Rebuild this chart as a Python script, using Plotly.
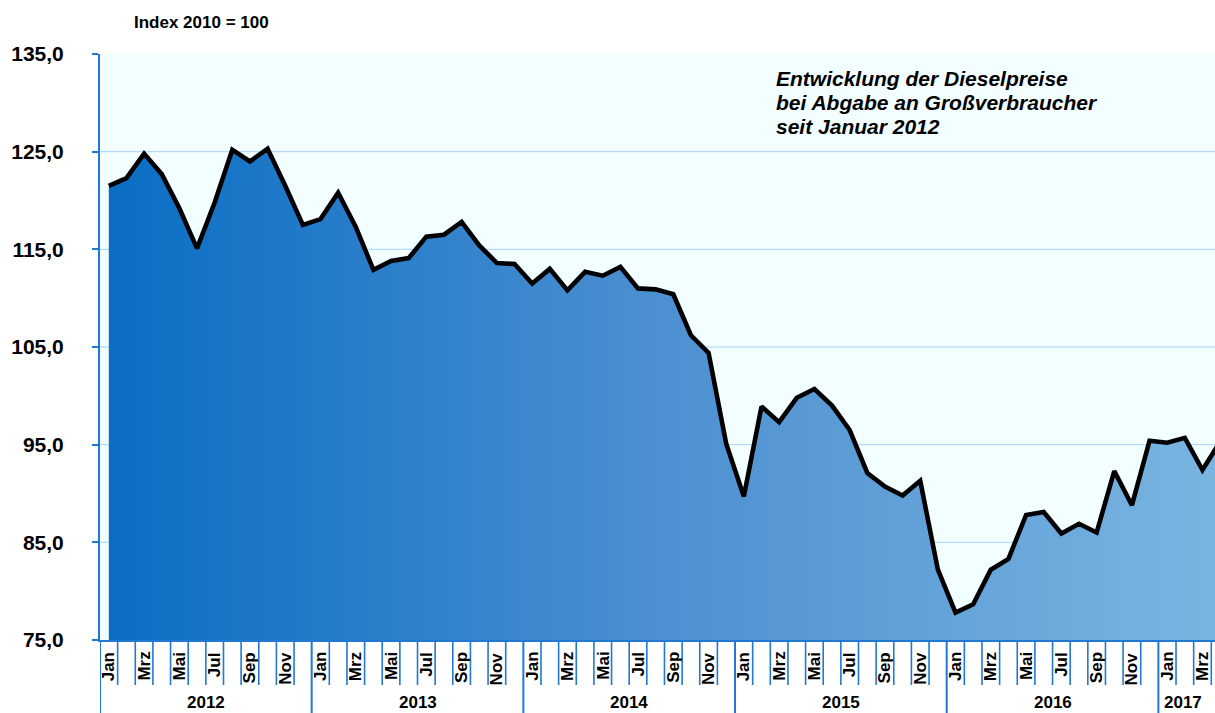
import plotly.graph_objects as go

# Dieselpreisindex (2010 = 100), Abgabe an Großverbraucher, monatlich
years = ["2012", "2013", "2014", "2015", "2016", "2017"]
months = ["Jan", "Feb", "Mrz", "Apr", "Mai", "Jun", "Jul", "Aug", "Sep", "Okt", "Nov", "Dez"]

index_2012 = [121.5, 122.3, 124.8, 122.7, 119.2, 115.1, 119.8, 125.2, 124.0, 125.3, 121.5, 117.5]
index_2013 = [118.1, 120.8, 117.3, 112.9, 113.8, 114.1, 116.3, 116.5, 117.8, 115.4, 113.6, 113.5]
index_2014 = [111.5, 113.0, 110.8, 112.7, 112.3, 113.2, 111.0, 110.9, 110.4, 106.2, 104.4, 95.1]
index_2015 = [89.7, 98.9, 97.3, 99.8, 100.7, 99.0, 96.5, 92.1, 90.7, 89.8, 91.3, 82.2]
index_2016 = [77.8, 78.65, 82.2, 83.3, 87.8, 88.1, 85.9, 86.9, 86.0, 92.3, 88.8, 95.4]
index_2017 = [95.2, 95.7, 92.4, 95.3]

y_ticks = [75, 85, 95, 105, 115, 125, 135]
y_tick_text = ["75,0", "85,0", "95,0", "105,0", "115,0", "125,0", "135,0"]

series = [index_2012, index_2013, index_2014, index_2015, index_2016, index_2017]
values = [v for year_vals in series for v in year_vals]
n_months = len(values)
# each month occupies one unit on the x axis, point in the middle
x_pos = [i + 0.5 for i in range(n_months)]

FONT = "Liberation Sans, Arial, sans-serif"
AXIS_BLUE = "#2179d3"
GRID_BLUE = "#a9d4fb"

W, H = 1215, 713
M_L, M_R, M_T, M_B = 100, 0, 54, 73
plot_h = H - M_T - M_B
x_end = 63.21


def py(pixel_y):
    """paper y for a pixel row (0 at top of page)"""
    return (H - M_B - pixel_y) / plot_h


fig = go.Figure()
fig.add_trace(go.Scatter(
    x=x_pos, y=values, mode="lines",
    line=dict(color="black", width=4.6),
    fill="tozeroy",
    fillgradient=dict(type="horizontal",
                      colorscale=[[0, "#0a6ec4"], [0.5, "#4d90d1"], [1, "#7ab5e1"]]),
    hoverinfo="skip", showlegend=False,
))

shapes = []
# horizontal gridlines
for v in y_ticks[1:-1]:
    shapes.append(dict(type="line", xref="paper", yref="y", x0=0, x1=1, y0=v, y1=v,
                       line=dict(color=GRID_BLUE, width=1), layer="below"))
# month separators below the axis; year separators run to the bottom edge
for k in range(0, n_months + 1):
    if k > x_end:
        break
    is_year = k % 12 == 0
    shapes.append(dict(type="line", xref="x", yref="paper", x0=k, x1=k,
                       y0=0, y1=py(713 if is_year else 685),
                       line=dict(color=AXIS_BLUE, width=2 if is_year else 1.6)))

annotations = []
# rotated month labels (every second month)
for i in range(n_months):
    if i % 2 == 0 and i + 0.5 < x_end:
        annotations.append(dict(
            x=i + 0.5, y=py(650), xref="x", yref="paper",
            text="<b>%s</b>" % months[i % 12], textangle=-90, showarrow=False,
            xanchor="center", yanchor="top",
            font=dict(family=FONT, size=17, color="black")))
# year labels
for j, yr in enumerate(years):
    cx = j * 12 + 6 if j < 5 else 61.4
    annotations.append(dict(
        x=cx, y=py(702.5), xref="x", yref="paper", text="<b>%s</b>" % yr,
        showarrow=False, xanchor="center", yanchor="middle",
        font=dict(family=FONT, size=17, color="black")))

annotations.append(dict(
    x=(132 - M_L) / (W - M_L - M_R), y=py(22), xref="paper", yref="paper",
    text="<b>Index 2010 = 100</b>", showarrow=False, xanchor="left", yanchor="middle",
    font=dict(family=FONT, size=17, color="black")))

title_lines = ["Entwicklung der Dieselpreise",
               "bei Abgabe an Großverbraucher",
               "seit Januar 2012"]
for k, line in enumerate(title_lines):
    annotations.append(dict(
        x=(774 - M_L) / (W - M_L - M_R), y=py(78 + 24 * k), xref="paper", yref="paper",
        text="<b><i>%s</i></b>" % line, showarrow=False, xanchor="left", yanchor="middle",
        font=dict(family=FONT, size=21, color="black")))

fig.update_layout(
    width=W, height=H,
    margin=dict(l=M_L, r=M_R, t=M_T, b=M_B, pad=0),
    paper_bgcolor="white", plot_bgcolor="#f2feff",
    shapes=shapes, annotations=annotations,
    xaxis=dict(range=[0, x_end], showgrid=False, zeroline=False, showticklabels=False,
               showline=True, linecolor=AXIS_BLUE, linewidth=2, ticks=""),
    yaxis=dict(range=[75, 135], tickvals=y_ticks,
               ticktext=["<b>%s</b>" % t for t in y_tick_text],
               showgrid=False, zeroline=False,
               showline=True, linecolor=AXIS_BLUE, linewidth=2,
               ticks="outside", ticklen=6, tickwidth=2, tickcolor=AXIS_BLUE,
               ticklabelstandoff=24,
               tickfont=dict(family=FONT, size=21, color="black")),
)

fig.write_html("out.html")
